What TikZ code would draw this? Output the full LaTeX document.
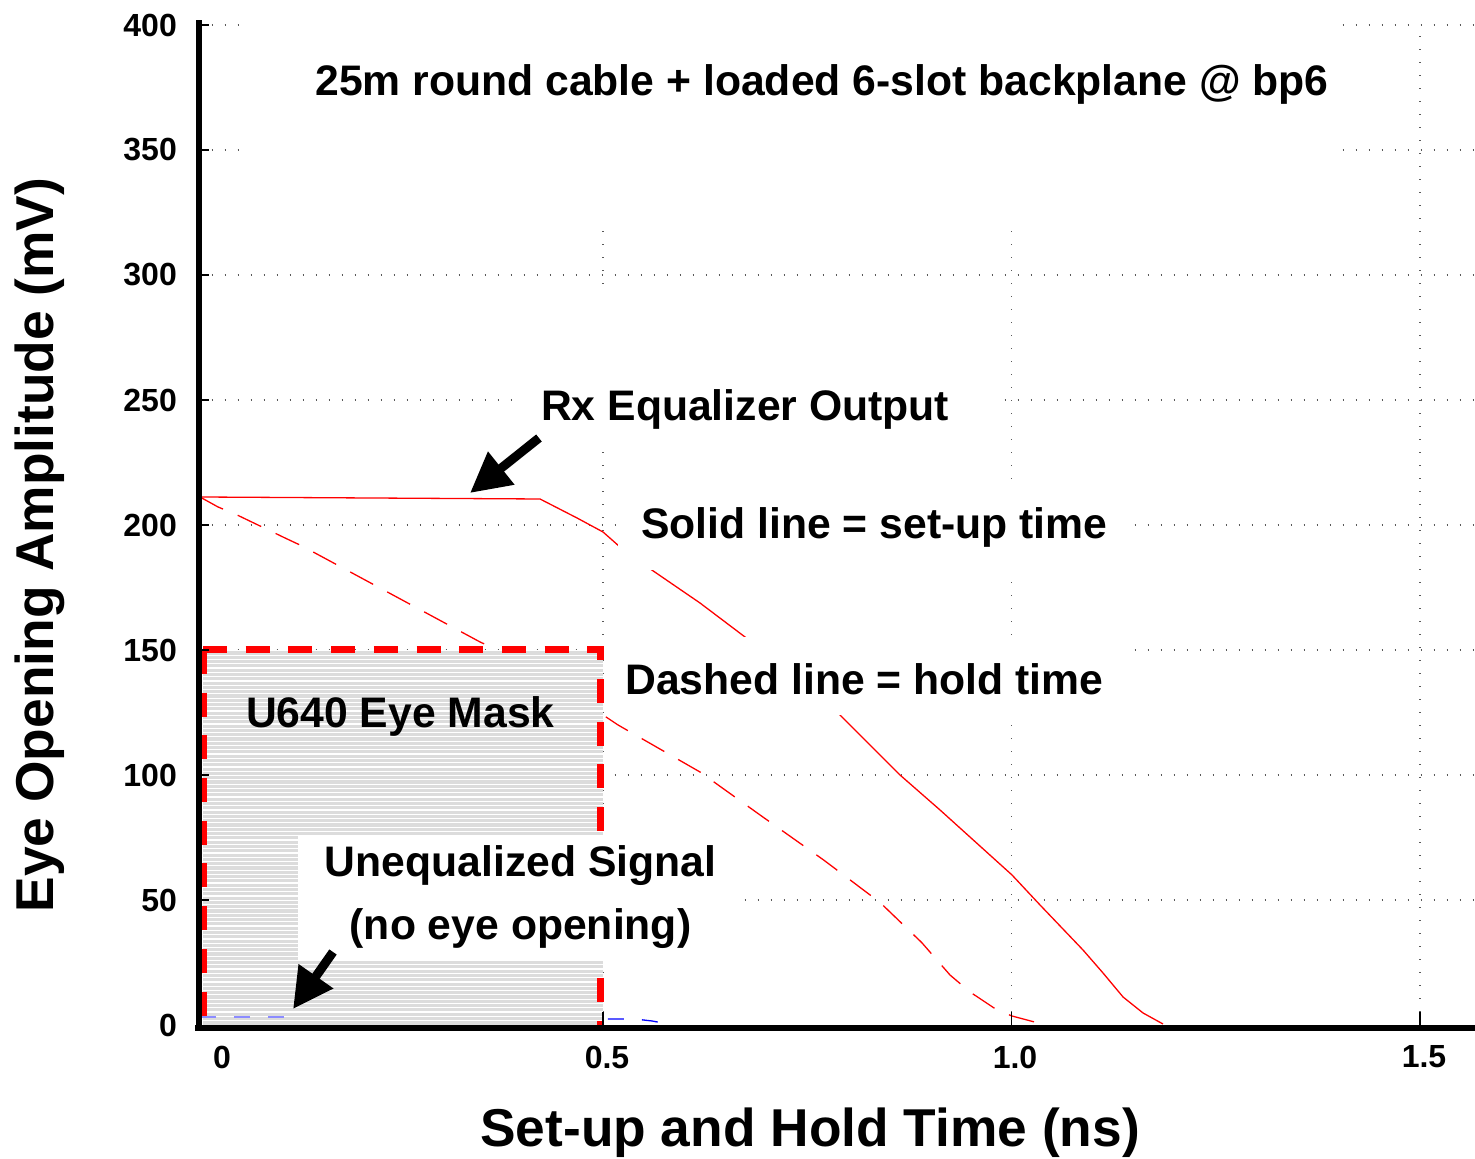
\documentclass[tikz,border=0pt]{standalone}
\usepackage{fontspec}
\setmainfont{Liberation Sans}
\usepackage{tikz}
\usetikzlibrary{arrows.meta}
\definecolor{maskgray}{RGB}{220,220,220}
\tikzset{
gridline/.style={black!65, line width=1.4pt, dash pattern=on 1.4pt off 11.6pt}, % dotted grid
axisline/.style={black, line width=6pt},
callout/.style={font=\fontsize{42.7}{63}\selectfont\bfseries, inner sep=0pt, align=center},
ticklabel/.style={font=\fontsize{32}{38}\selectfont\bfseries, inner sep=0pt},
axislabel/.style={font=\fontsize{53.3}{60}\selectfont\bfseries, inner sep=0pt},
setup/.style={red, line width=1.3pt}, % solid curve
hold/.style={red, line width=1.3pt, dash pattern=on 26pt off 16pt}, % dashed curve
raw/.style={blue, line width=1.3pt, dash pattern=on 16pt off 18pt},
pointer/.style={line width=9pt, -{Triangle[length=40pt,width=40pt]}},
}

\begin{document}
\begin{tikzpicture}[x=817pt, y=2.5pt]
\useasboundingbox (-0.2381,-53.6) rectangle (1.5673,410);

% grid
\foreach \v in {50,100,...,400}
    \draw[gridline] (0.0049,\v) -- (1.5673,\v);
\foreach \t in {0.5,1.0,1.5}
    \draw[gridline] (\t,0) -- (\t,400);

% hold time (dashed) and set-up time (solid)
\draw[hold] (0.0067,211.2) -- (0.0288,207.2) -- (0.0496,204.4) -- (0.1108,194.8)
    -- (0.1316,191.6) -- (0.3495,153.2) -- (0.3654,150.8) -- (0.3862,146.4)
    -- (0.4315,137.2) -- (0.4596,131.2) -- (0.5,124) -- (0.5184,120)
    -- (0.6187,101.2) -- (0.6922,84) -- (0.7700,66) -- (0.8391,49)
    -- (0.8900,33) -- (0.9247,20) -- (0.9492,13.2) -- (0.9823,6)
    -- (1.0006,3.6) -- (1.0373,0.4);
\draw[setup] (0.0067,211.2) -- (0.4229,210.4) -- (0.4682,202.8) -- (0.5,197.2)
    -- (0.5208,191.2) -- (0.5490,184.4) -- (0.6187,168.8) -- (0.6738,155.2)
    -- (0.7901,124) -- (0.8635,100) -- (0.9125,86) -- (1.0006,60)
    -- (1.0349,48) -- (1.0875,30) -- (1.1120,20.8) -- (1.1365,11.2)
    -- (1.1610,4.8) -- (1.1854,0.4);

% unequalized signal, mostly under the mask
\draw[raw] (0.0067,3.2) -- (0.117,3.2) -- (0.517,2.4) -- (0.539,2.4)
    -- (0.56,1.6) -- (0.5796,0.4);

% eye mask
\fill[maskgray] (0.0104,0) rectangle (0.5,150);
\foreach \k in {1,...,87}
    \draw[white, line width=1.2pt] (0.0104,\k*1.72) -- (0.5,\k*1.72);
\draw[raw, blue!45] (0.0067,3.2) -- (0.117,3.2);

% mask outline
\draw[red, line width=7pt, dash pattern=on 24pt off 18.7pt]
    (0.0104,150) -- (0.4975,150) -- (0.4975,0);
\draw[red, line width=7pt, dash pattern=on 24pt off 18.7pt]
    (0.0104,150) -- (0.0104,0);

% white backdrops behind the labels
\fill[white] (0.0679,318) rectangle (1.40,404);
\fill[white] (0.398,231.2) rectangle (0.986,294);
\fill[white] (0.518,182) rectangle (1.139,214);
\fill[white] (0.506,124) rectangle (1.145,155.2);
\fill[white] (0.1267,26) rectangle (0.668,76);

% labels
\node[callout] (title) at (0.768,376.4) {25m round cable + loaded 6-slot backplane @ bp6};
\node[callout] (rxlabel) at (0.674,246.2) {Rx Equalizer Output};
\node[callout] (setuplabel) at (0.832,199) {Solid line = set-up time};
\node[callout] (holdlabel) at (0.820,138.4) {Dashed line = hold time};
\node[callout] (masklabel) at (0.252,123.6) {U640 Eye Mask};
\node[callout] (uneqlabel) at (0.399,51.2) {Unequalized Signal\\(no eye opening)};

% pointers
\coordinate (rxtail) at (0.4216,234.8);
\coordinate (rxtip) at (0.3372,212.8);
\coordinate (uneqtail) at (0.1695,29.2);
\coordinate (uneqtip) at (0.1206,6.4);
\draw[pointer] (rxtail) -- (rxtip);
\draw[pointer] (uneqtail) -- (uneqtip);

% axes
\draw[axisline] (0.0049,-2.4) -- (0.0049,402);
\draw[axisline] (0.0006,-1.2) -- (1.5673,-1.2);
\foreach \v in {50,100,...,400}
    \draw[black, line width=1.5pt] (0.0049,\v) -- (0.0177,\v);
\foreach \t in {0.5,1.0,1.5}
    \draw[black, line width=1.5pt] (\t,-1.2) -- (\t,5.2);

% tick labels
\foreach \v in {0,50,...,400}
    \node[ticklabel, anchor=east] (y\v) at (-0.0214,\v) {\v};
\node[ticklabel] (x0) at (0.0337,-12.8) {0};
\node[ticklabel] (x05) at (0.5049,-12.8) {0.5};
\node[ticklabel] (x10) at (1.0043,-12.8) {1.0};
\node[ticklabel] (x15) at (1.5049,-12.8) {1.5};

\node[axislabel] (xlabel) at (0.7534,-43.2) {Set-up and Hold Time (ns)};
\node[axislabel, rotate=90] (ylabel) at (-0.189,192) {Eye Opening Amplitude (mV)};
\end{tikzpicture}
\end{document}
